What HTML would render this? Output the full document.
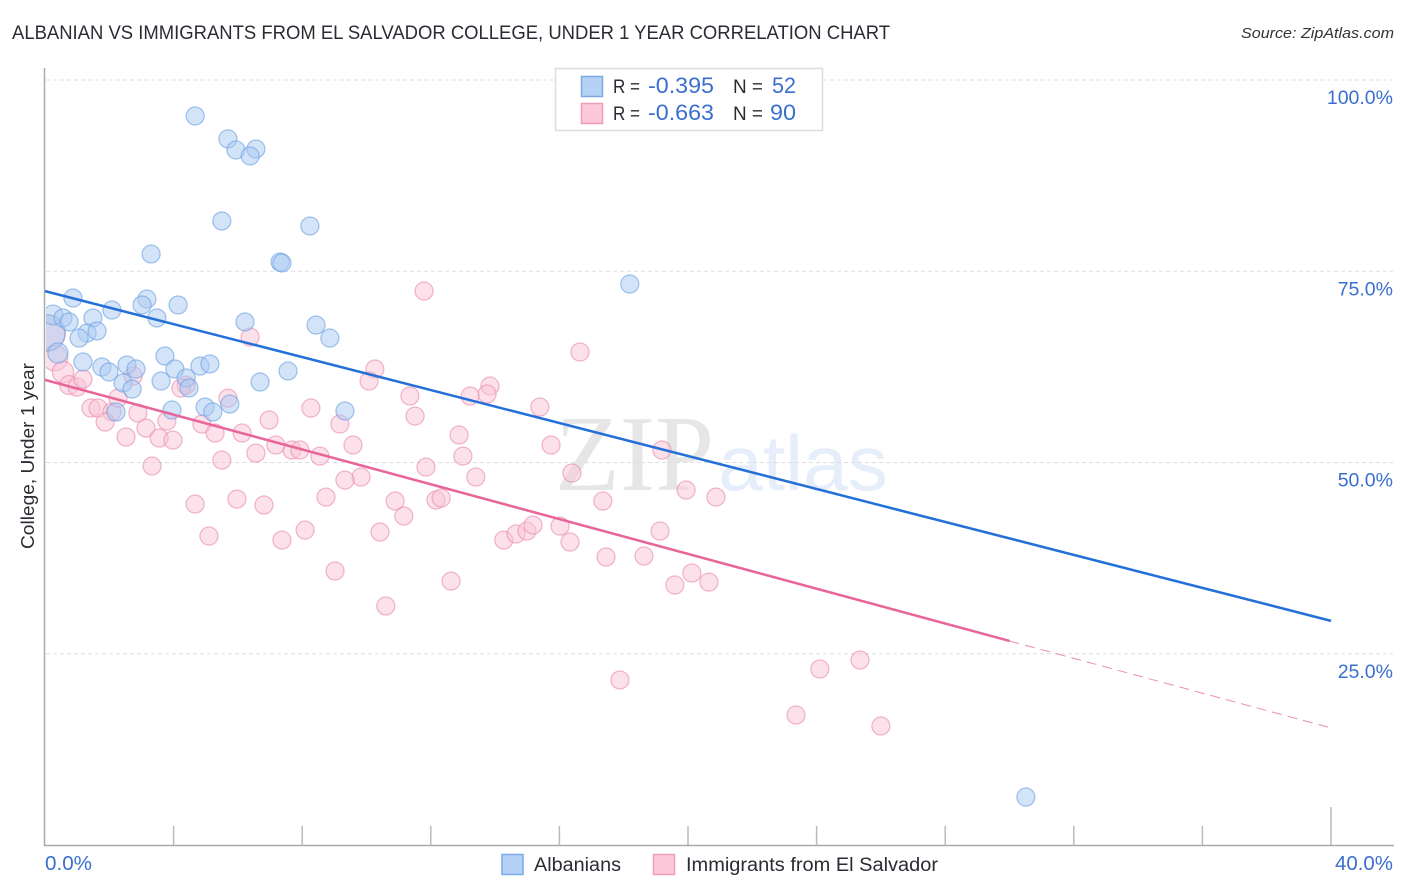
<!DOCTYPE html>
<html>
<head>
<meta charset="utf-8">
<title>Albanian vs Immigrants from El Salvador College, Under 1 Year Correlation Chart</title>
<style>
html,body{margin:0;padding:0;background:#fff;width:1406px;height:892px;overflow:hidden}
svg{display:block;font-family:"Liberation Sans",sans-serif}
</style>
</head>
<body>
<svg id="chart" width="1406" height="892" viewBox="0 0 1406 892" xmlns="http://www.w3.org/2000/svg">
  <defs><clipPath id="plot-clip"><rect x="46" y="60" width="1350" height="785"/></clipPath></defs>
  <text x="12" y="39" font-size="19" fill="#2b2b33" textLength="878" lengthAdjust="spacingAndGlyphs">ALBANIAN VS IMMIGRANTS FROM EL SALVADOR COLLEGE, UNDER 1 YEAR CORRELATION CHART</text>
  <text x="1241" y="38" font-size="15" font-style="italic" fill="#333" textLength="153" lengthAdjust="spacingAndGlyphs">Source: ZipAtlas.com</text>

  <g>
    <text x="555" y="490" font-family="'Liberation Serif',serif" font-size="108" fill="#e6e6e6" textLength="159" lengthAdjust="spacingAndGlyphs">ZIP</text>
    <text x="718" y="490" font-family="'Liberation Sans',sans-serif" font-size="78" fill="#e5eefa" textLength="170" lengthAdjust="spacingAndGlyphs">atlas</text>
  </g>

  <g id="grid"></g>
  <g id="axes"></g>
  <g id="pink-points" clip-path="url(#plot-clip)"></g>
  <g id="blue-points" clip-path="url(#plot-clip)"></g>
  <g id="trends"></g>
  <g id="labels"></g>

  <text transform="translate(34,456) rotate(-90)" font-size="18" fill="#2b2b33" text-anchor="middle" textLength="186" lengthAdjust="spacingAndGlyphs">College, Under 1 year</text>

  <g>
    <rect x="555.5" y="68.5" width="267" height="62" fill="#fff" stroke="#ddd" stroke-width="1.5"/>
    <rect x="581.5" y="76.5" width="21" height="20" fill="#b5d1f6" stroke="#7aa9e6" stroke-width="1.5"/>
    <rect x="581.5" y="103.5" width="21" height="20" fill="#fcc8da" stroke="#ee9cba" stroke-width="1.5"/>
    <text x="613" y="93" font-size="19" fill="#2b2b33" textLength="27" lengthAdjust="spacingAndGlyphs">R =</text>
    <text x="648" y="93" font-size="22" fill="#3a6fd0" textLength="66" lengthAdjust="spacingAndGlyphs">-0.395</text>
    <text x="733" y="93" font-size="19" fill="#2b2b33" textLength="30" lengthAdjust="spacingAndGlyphs">N =</text>
    <text x="772" y="93" font-size="22" fill="#3a6fd0" textLength="24" lengthAdjust="spacingAndGlyphs">52</text>
    <text x="613" y="120" font-size="19" fill="#2b2b33" textLength="27" lengthAdjust="spacingAndGlyphs">R =</text>
    <text x="648" y="120" font-size="22" fill="#3a6fd0" textLength="66" lengthAdjust="spacingAndGlyphs">-0.663</text>
    <text x="733" y="120" font-size="19" fill="#2b2b33" textLength="30" lengthAdjust="spacingAndGlyphs">N =</text>
    <text x="770" y="120" font-size="22" fill="#3a6fd0" textLength="26" lengthAdjust="spacingAndGlyphs">90</text>
  </g>

  <g>
    <rect x="502" y="854.5" width="21" height="20" fill="#b5d1f6" stroke="#7aa9e6" stroke-width="1.5"/>
    <text x="534" y="871" font-size="19" fill="#2b2b33" textLength="87" lengthAdjust="spacingAndGlyphs">Albanians</text>
    <rect x="653.5" y="854.5" width="21" height="20" fill="#fcc8da" stroke="#ee9cba" stroke-width="1.5"/>
    <text x="686" y="871" font-size="19" fill="#2b2b33" textLength="252" lengthAdjust="spacingAndGlyphs">Immigrants from El Salvador</text>
  </g>
</svg>
<script>
// Scatter values: college attainment share vs. group share, both in percent
const blueX = [0.06,4.67,5.69,5.94,6.56,6.38,5.50,8.24,3.30,7.31,7.37,18.19,0.87,3.17,3.02,4.14,2.08,0.25,0.56,0.75,1.49,3.48,6.22,8.43,1.31,1.62,1.06,8.86,0.40,1.18,3.73,2.55,1.77,1.99,2.83,4.04,4.82,5.13,7.56,2.43,3.61,4.39,4.48,2.71,6.69,4.98,5.75,3.95,5.22,2.21,9.33,30.51];
const blueY = [66.93,95.3,92.3,90.85,90.98,90.07,81.57,80.92,77.25,76.2,76.08,73.33,71.5,71.37,70.59,70.59,69.93,69.28,68.89,68.37,68.89,68.89,68.37,67.97,66.93,67.19,66.27,66.27,64.31,63.14,63.92,62.75,62.48,61.83,62.22,62.22,62.61,62.88,61.96,60.39,60.65,61.05,59.74,59.6,60.52,57.25,57.64,56.86,56.6,56.6,56.73,6.27];
const blueWeights = [4,1,1,1,1,1,1,1,1,1,1,1,1,1,1,1,1,1.2,1,1,1,1,1,1,1,1,1,1,1.25];

const pinkX = [0.06,0.31,0.56,0.75,1.0,1.18,1.43,1.65,2.08,1.87,2.27,2.89,3.79,3.14,2.52,3.55,3.98,3.33,5.5,4.88,5.29,6.13,4.39,4.23,2.74,5.69,6.38,11.79,16.64,10.26,10.08,13.84,13.75,13.22,11.35,15.39,8.27,11.51,6.97,9.17,9.58,12.88,13.0,7.68,7.93,7.18,8.55,6.56,19.19,11.85,9.83,9.33,13.4,16.39,19.94,20.87,8.74,10.89,12.16,12.32,17.35,11.16,6.81,5.97,4.67,5.1,8.09,7.37,10.42,14.27,14.65,14.99,15.18,16.02,16.33,19.13,17.45,18.63,20.12,19.59,20.65,9.02,12.63,10.6,17.88,24.1,25.35,23.36,26.0,15.74];
const pinkY = [66.93,63.65,61.82,60.12,59.86,60.91,57.12,57.12,56.6,55.29,58.42,56.46,55.42,54.5,53.33,53.2,52.93,49.54,50.32,55.02,53.85,53.85,60.12,59.73,61.3,58.42,66.4,72.41,64.44,62.22,60.65,60.0,58.95,58.69,58.69,57.25,57.12,56.07,55.55,55.03,52.28,53.59,50.84,51.63,51.63,52.28,50.84,51.23,51.63,49.4,48.1,47.7,48.1,48.62,46.4,45.48,45.48,44.96,45.09,45.35,44.96,43.0,44.44,45.22,44.57,40.39,41.17,39.86,40.91,39.86,40.65,41.04,41.82,41.69,39.6,41.04,37.64,37.77,35.55,33.98,34.37,35.81,34.5,31.24,21.57,23.0,24.18,16.99,15.55,52.28];
const pinkWeights = [4.2,2,1.4,1.1];

// Trend lines: value at x = 0% and x = 40%; pink turns dashed past its data range
const blueTrend = [72.4,29.3];
const pinkTrend = [60.8,15.3];
const pinkSolidEnd = 30;

// Axis ticks
const yGridValues = [25,50,75,100];
const yTickLabels = ["25.0%","50.0%","75.0%","100.0%"];
const xTickValues = [0,4,8,12,16,20,24,28,32,36,40];
const xTickLabels = ["0.0%","40.0%"];

const NS = 'http://www.w3.org/2000/svg';
const xScale = v => 45 + (v / 40) * 1286;
const yScale = v => 845 - (v / 100) * 765;
function make(parent, tag, attrs, text) {
  const el = document.createElementNS(NS, tag);
  for (const k in attrs) el.setAttribute(k, attrs[k]);
  if (text !== undefined) el.textContent = text;
  document.getElementById(parent).appendChild(el);
  return el;
}

yGridValues.forEach((v, i) => {
  const g = make('grid', 'line', {x1: 46, x2: 1393, y1: yScale(v), y2: yScale(v), stroke: '#ddd', 'stroke-width': 1, 'stroke-dasharray': '4 3'});
  
  
  const t = make('labels', 'text', {x: 1393, y: yScale(v) + 24, 'font-size': 19.5, fill: '#3a6fd0', 'text-anchor': 'end'}, yTickLabels[i]);
  
  
});

const yAxis = make('axes', 'line', {x1: 44.5, x2: 44.5, y1: 68, y2: 846, stroke: '#aaa', 'stroke-width': 1.5});


const xAxis = make('axes', 'line', {x1: 44, x2: 1394, y1: 845.5, y2: 845.5, stroke: '#aaa', 'stroke-width': 1.5});



xTickValues.slice(1).forEach((v, i, arr) => {
  const top = i === arr.length - 1 ? 807 : 826;
  const tick = make('axes', 'line', {x1: xScale(v), x2: xScale(v), y1: top, y2: 845, stroke: '#bbb', 'stroke-width': 1.5});
  
  
});

const xLabelLeft = make('labels', 'text', {x: 45, y: 870, 'font-size': 20, fill: '#3a6fd0', textLength: 47, lengthAdjust: 'spacingAndGlyphs'}, xTickLabels[0]);


const xLabelRight = make('labels', 'text', {x: 1335, y: 870, 'font-size': 20, fill: '#3a6fd0', textLength: 58, lengthAdjust: 'spacingAndGlyphs'}, xTickLabels[1]);



function drawPoints(parent, xs, ys, weights, fill, stroke) {
  xs.forEach((x, i) => {
    const w = weights[i] || 1;
    const c = make(parent, 'circle', {cx: xScale(x), cy: yScale(ys[i]), r: 9 * Math.sqrt(w), fill: fill, 'fill-opacity': 0.5, stroke: stroke, 'stroke-opacity': 0.62, 'stroke-width': 1.25});
    
    
  });
}
drawPoints('pink-points', pinkX, pinkY, pinkWeights, '#f9c4d6', '#e88aac');
drawPoints('blue-points', blueX, blueY, blueWeights, '#a9c9f2', '#6ba0e2');

const trendAt = (t, x) => t[0] + (t[1] - t[0]) * x / 40;
const blueLine = make('trends', 'line', {x1: xScale(0), y1: yScale(blueTrend[0]), x2: xScale(40), y2: yScale(blueTrend[1]), stroke: '#2470d8', 'stroke-width': 2.5});


const pinkLine = make('trends', 'line', {x1: xScale(0), y1: yScale(pinkTrend[0]), x2: xScale(pinkSolidEnd), y2: yScale(trendAt(pinkTrend, pinkSolidEnd)), stroke: '#e8659a', 'stroke-width': 2.5});


const pinkDash = make('trends', 'line', {x1: xScale(pinkSolidEnd), y1: yScale(trendAt(pinkTrend, pinkSolidEnd)), x2: xScale(40), y2: yScale(pinkTrend[1]), stroke: '#e8659a', 'stroke-width': 1, 'stroke-opacity': 0.75, 'stroke-dasharray': '10 6'});


</script>
</body>
</html>
